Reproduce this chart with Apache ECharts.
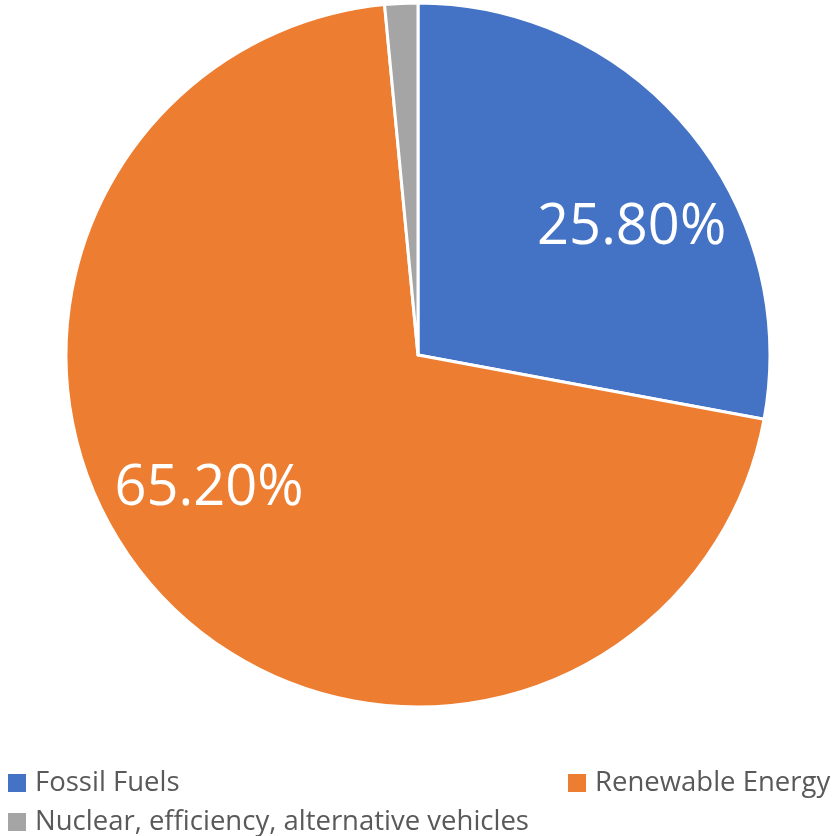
<!DOCTYPE html>
<html><head><meta charset="utf-8">
<script src="https://cdn.jsdelivr.net/npm/echarts@6/dist/echarts.min.js"></script>
<style>html,body{margin:0;padding:0;background:#fff}#c{width:836px;height:836px}</style>
</head><body><div id="c"></div>
<script>
const categories = ["Fossil Fuels", "Renewable Energy", "Nuclear, efficiency, alternative vehicles"];
const values = [25.8, 65.2, 1.4];
const colors = ["#4472C4", "#ED7D31", "#A5A5A5"];
const labelOffsets = [[76, -13], [-77, 13], [0, 0]];
const showLabel = [true, true, false];

const chart = echarts.init(document.getElementById('c'));
function legendAt(left, top, name) {
  return {
    left: left, top: top, data: [name],
    orient: 'horizontal', itemWidth: 18, itemHeight: 18, icon: 'rect',
    itemStyle: { borderWidth: 0, borderColor: 'transparent' },
    textStyle: { fontFamily: 'Open Sans', fontSize: 27.5, color: '#595959', padding: [0, 0, 0, 4] }
  };
}
chart.setOption({
  animation: false,
  legend: [
    legendAt(3, 764, categories[0]),
    legendAt(563, 764, categories[1]),
    legendAt(3, 803, categories[2])
  ],
  series: [{
    type: 'pie',
    center: [418, 355],
    radius: [0, 352],
    startAngle: 90,
    clockwise: true,
    avoidLabelOverlap: false,
    itemStyle: { borderColor: '#fff', borderWidth: 3 },
    label: {
      position: 'inside', color: '#fff', fontFamily: 'Open Sans', fontSize: 56,
      formatter: p => p.value.toFixed(2) + '%'
    },
    labelLine: { show: false },
    emphasis: { disabled: true },
    data: categories.map((n, i) => ({
      name: n, value: values[i], itemStyle: { color: colors[i] },
      label: { show: showLabel[i], offset: labelOffsets[i] }
    }))
  }]
});
</script></body></html>
